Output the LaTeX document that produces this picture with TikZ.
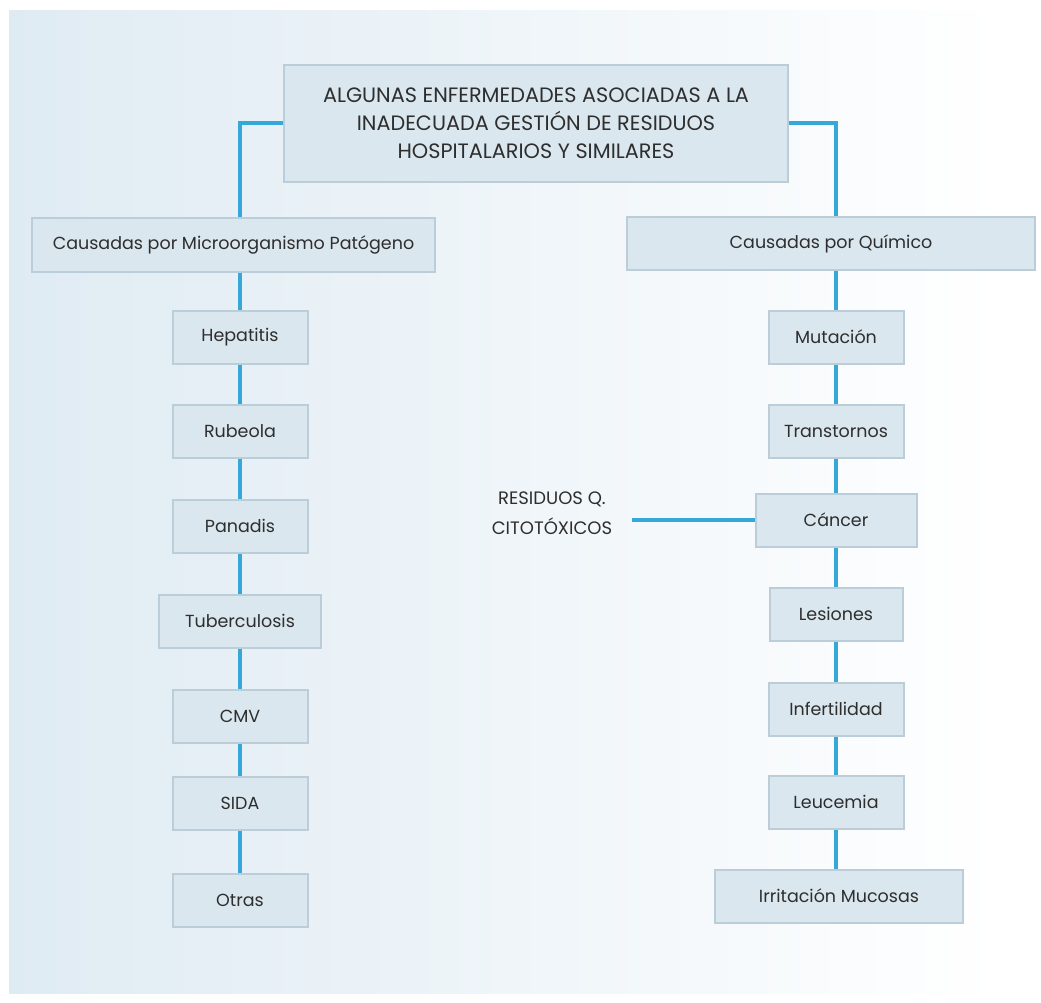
\documentclass[tikz,border=0pt]{standalone}
\usepackage{fontspec}
\setmainfont{Poppins}
\definecolor{panelL}{HTML}{DFEBF3}
\definecolor{boxfill}{HTML}{DAE7EF}
\definecolor{boxborder}{HTML}{BACDD9}
\definecolor{linecol}{HTML}{34A8D9}
\definecolor{txt}{HTML}{2E2E2E}
\tikzset{
  box/.style={draw=boxborder, fill=boxfill, line width=2pt, minimum height=53pt, inner sep=0pt, text=txt, font=\fontsize{17.5}{21}\selectfont},
  conn/.style={draw=linecol, line width=4pt},
  plain/.style={text=txt, align=center, font=\fontsize{18}{30}\selectfont}
}
\begin{document}
\begin{tikzpicture}[x=1pt,y=-1pt]
\useasboundingbox (0,0) rectangle (1041,1002);
\fill[white] (0,0) rectangle (1041,1002);
\shade[left color=panelL, right color=white] (9,10) rectangle (1000,993);
\fill[white] (1000,10) rectangle (1041,993);
% top
\node[box, minimum width=504pt, minimum height=117pt, align=center, font=\fontsize{20.8}{28}\selectfont] (top) at (536,123) {ALGUNAS ENFERMEDADES ASOCIADAS A LA\\INADECUADA GESTIÓN DE RESIDUOS\\HOSPITALARIOS Y SIMILARES};
\node[box, minimum width=403pt, minimum height=54pt] (left) at (233.5,245) {Causadas por Microorganismo Patógeno};
\node[box, minimum width=408pt] (right) at (831,243.5) {Causadas por Químico};
% left column
\node[box, minimum width=135pt] (hep) at (240,337) {Hepatitis};
\node[box, minimum width=135pt] (rub) at (240,431) {Rubeola};
\node[box, minimum width=135pt] (pan) at (240,526) {Panadis};
\node[box, minimum width=162pt] (tub) at (240,621) {Tuberculosis};
\node[box, minimum width=135pt] (cmv) at (240,716) {CMV};
\node[box, minimum width=135pt] (sida) at (240,803) {SIDA};
\node[box, minimum width=135pt] (otr) at (240,900) {Otras};
% right column
\node[box, minimum width=135pt] (mut) at (836,337) {Mutación};
\node[box, minimum width=135pt] (tra) at (836,431) {Transtornos};
\node[box, minimum width=161pt] (can) at (836,520) {Cáncer};
\node[box, minimum width=133pt] (les) at (836,614) {Lesiones};
\node[box, minimum width=135pt] (inf) at (836,709) {Infertilidad};
\node[box, minimum width=135pt] (leu) at (836,802) {Leucemia};
\node[box, minimum width=248pt] (irr) at (839,896) {Irritación Mucosas};
% residuos
\node[plain] (res) at (552,513) {RESIDUOS Q.\\CITOTÓXICOS};
% connectors
\draw[conn] (top.west) -| (left.north -| hep.north);
\draw[conn] (top.east) -| (right.north -| mut.north);
\draw[conn] (left.south -| hep.north) -- (hep.north);
\draw[conn] (hep.south) -- (rub.north);
\draw[conn] (rub.south) -- (pan.north);
\draw[conn] (pan.south) -- (tub.north);
\draw[conn] (tub.south) -- (cmv.north);
\draw[conn] (cmv.south) -- (sida.north);
\draw[conn] (sida.south) -- (otr.north);
\draw[conn] (right.south -| mut.north) -- (mut.north);
\draw[conn] (mut.south) -- (tra.north);
\draw[conn] (tra.south) -- (can.north);
\draw[conn] (can.south) -- (les.north);
\draw[conn] (les.south) -- (inf.north);
\draw[conn] (inf.south) -- (leu.north);
\draw[conn] (leu.south) -- (irr.north -| leu.south);
\draw[conn] ([xshift=16pt]res.east |- can.west) -- (can.west);
\end{tikzpicture}
\end{document}
